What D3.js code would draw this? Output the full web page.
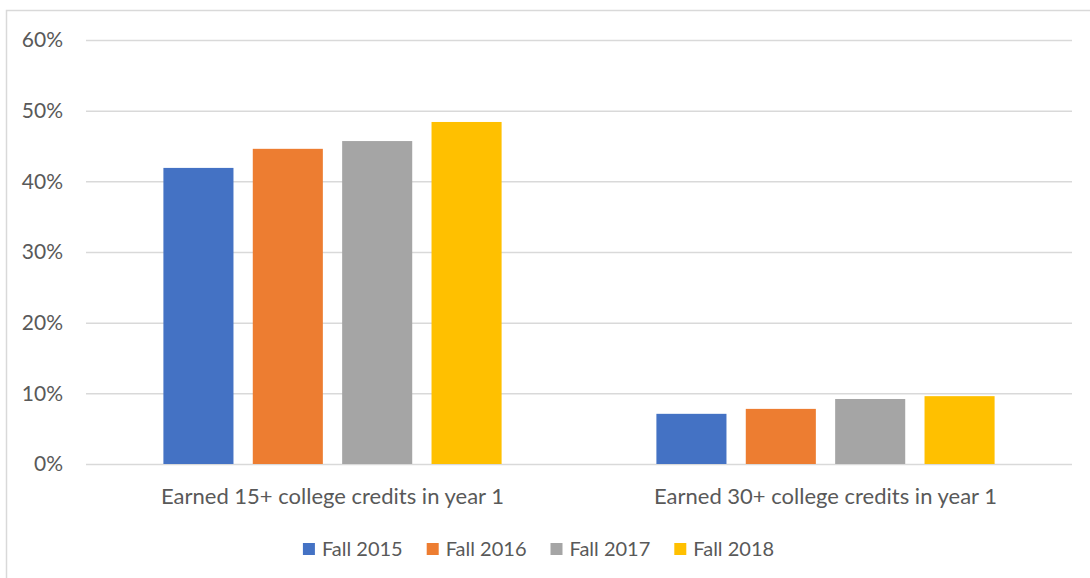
<!DOCTYPE html>
<html>
<head>
<meta charset="utf-8">
<script src="https://cdn.jsdelivr.net/npm/d3@7"></script>
<style>
  html, body { margin: 0; padding: 0; background: #fff; }
  svg { display: block; font-family: Lato, "Open Sans", sans-serif; }
</style>
</head>
<body>
<svg id="chart" width="1090" height="578"></svg>
<script>
const categories = ["Earned 15+ college credits in year 1", "Earned 30+ college credits in year 1"];
const seriesNames = ["Fall 2015", "Fall 2016", "Fall 2017", "Fall 2018"];
const seriesColors = ["#4472C4", "#ED7D31", "#A5A5A5", "#FFC000"];
const fall2015 = [0.419, 0.071];
const fall2016 = [0.446, 0.078];
const fall2017 = [0.457, 0.092];
const fall2018 = [0.484, 0.096];
const seriesValues = [fall2015, fall2016, fall2017, fall2018];
const yTicks = [0, 0.1, 0.2, 0.3, 0.4, 0.5, 0.6];

const svg = d3.select("#chart");
const textColor = "#595959";
const gridColor = "#d9d9d9";

// chart border (top & left visible)
svg.append("rect").attr("x", 6.5).attr("y", 10.5).attr("width", 1100).attr("height", 600)
  .attr("fill", "none").attr("stroke", gridColor).attr("stroke-width", 1.5);

const plotLeft = 86, plotRight = 1072, plotTop = 40, plotBottom = 464;

const y = d3.scaleLinear().domain([0, 0.6]).range([plotBottom, plotTop]);
const x0 = d3.scaleBand().domain(categories).range([plotLeft, plotRight]).paddingInner(0.314).paddingOuter(0.157);
const x1 = d3.scaleBand().domain(seriesNames).range([0, x0.bandwidth()]).paddingInner(0.216).paddingOuter(0);

// y axis w/ gridlines
const yAxis = svg.append("g").attr("transform", `translate(${plotLeft},0)`)
  .call(d3.axisLeft(y).tickValues(yTicks).tickFormat(d3.format(".0%")).tickSize(-(plotRight - plotLeft)).tickPadding(23));
yAxis.select(".domain").remove();
yAxis.selectAll(".tick line").attr("stroke", gridColor).attr("stroke-width", 1.5);
yAxis.selectAll(".tick text").attr("fill", textColor).attr("font-size", 21).attr("font-family", "Lato");

// bars
const groups = svg.append("g").selectAll("g").data(categories).join("g")
  .attr("transform", d => `translate(${x0(d)},0)`);
groups.selectAll("rect")
  .data((c, ci) => seriesNames.map((s, si) => ({ s, si, v: seriesValues[si][ci] })))
  .join("rect")
  .attr("x", d => x1(d.s))
  .attr("width", x1.bandwidth())
  .attr("y", d => y(d.v))
  .attr("height", d => y(0) - y(d.v))
  .attr("fill", d => seriesColors[d.si]);

// x axis labels
const xAxis = svg.append("g").attr("transform", `translate(0,${plotBottom})`)
  .call(d3.axisBottom(x0).tickSize(0).tickPadding(24));
xAxis.select(".domain").remove();
xAxis.selectAll(".tick text").attr("fill", textColor).attr("font-size", 22).attr("font-family", "Lato");

// legend
const legend = svg.append("g");
const items = legend.selectAll("g").data(seriesNames).join("g");
items.append("rect").attr("width", 12).attr("height", 12).attr("y", -12.5)
  .attr("fill", (d, i) => seriesColors[i]);
items.append("text").attr("x", 19).attr("y", 0).attr("fill", textColor)
  .attr("font-size", 20).attr("font-family", "Lato").text(d => d);
let xpos = 0;
items.each(function () {
  const g = d3.select(this);
  g.attr("transform", `translate(${xpos},0)`);
  const w = g.select("text").node().getComputedTextLength();
  xpos += 19 + w + 24;
});
const totalW = xpos - 24;
legend.attr("transform", `translate(${538.5 - totalW / 2},555.5)`);
</script>
</body>
</html>
